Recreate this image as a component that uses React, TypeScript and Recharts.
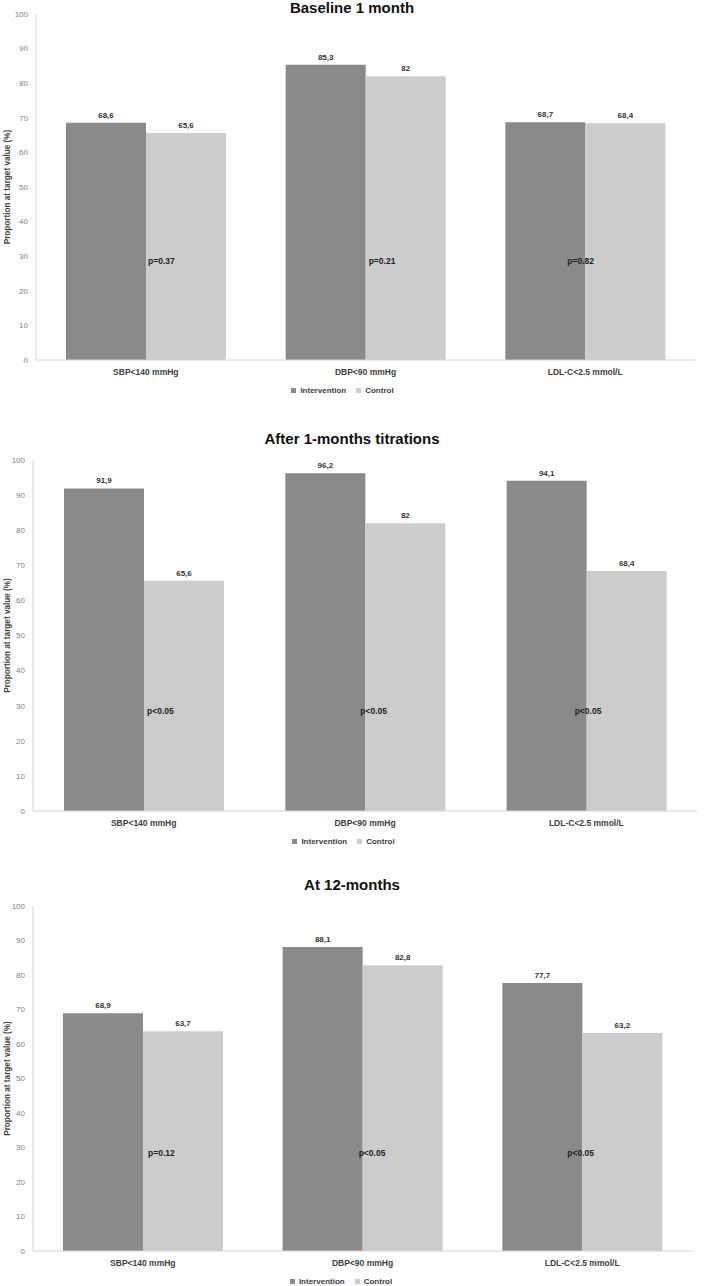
import React from "react";
import { BarChart, Bar, XAxis, YAxis, Legend, LabelList, Label } from "recharts";

const categories = ["SBP<140 mmHg", "DBP<90 mmHg", "LDL-C<2.5 mmol/L"];

const baselineIntervention = [68.6, 85.3, 68.7];
const baselineControl = [65.6, 82, 68.4];
const baselineP = ["p=0.37", "p=0.21", "p=0.82"];

const titrationIntervention = [91.9, 96.2, 94.1];
const titrationControl = [65.6, 82, 68.4];
const titrationP = ["p<0.05", "p<0.05", "p<0.05"];

const month12Intervention = [68.9, 88.1, 77.7];
const month12Control = [63.7, 82.8, 63.2];
const month12P = ["p=0.12", "p<0.05", "p<0.05"];

const yTicks = [0, 10, 20, 30, 40, 50, 60, 70, 80, 90, 100];
const seriesOrder = ["Intervention", "Control"];
const pLevel = 28.5;

const FONT = "Arial, 'Liberation Sans', sans-serif";
const DARK = "#8a8a8a";
const LIGHT = "#cccccc";

const fmt = (v: any) => String(v).replace(".", ",");

interface PanelProps {
  title: string;
  intervention: number[];
  control: number[];
  pValues: string[];
  pShift: number[];
  top: number;
  height: number;
  titleY: number;
  margin: { top: number; right: number; bottom: number; left: number };
  yWidth: number;
}

const Panel: React.FC<PanelProps> = ({
  title, intervention, control, pValues, pShift, top, height, titleY, margin, yWidth,
}) => {
  const data = categories.map((name, i) => ({
    name,
    intervention: intervention[i],
    control: control[i],
    p: pValues[i],
  }));

  const renderP = (props: any) => {
    const vb = props.viewBox ?? props;
    const x = Number(vb.x);
    const y = Number(vb.y);
    const h = Number(vb.height);
    const bottom = Math.max(y, y + h);
    const row = data[props.index];
    const ty = bottom - Math.abs(h) * (pLevel / row.control);
    return (
      <text
        x={x + pShift[props.index]}
        y={ty}
        dy="0.35em"
        fontSize={8.5}
        fontWeight="bold"
        fill="#222"
        fontFamily={FONT}
      >
        {props.value}
      </text>
    );
  };

  const renderYLabel = (props: any) => {
    const vb = props.viewBox;
    const cy = vb.y + vb.height / 2;
    return (
      <text
        x={7}
        y={cy}
        transform={`rotate(-90, 7, ${cy})`}
        textAnchor="middle"
        dy="0.35em"
        fontSize={8.2}
        fontWeight="bold"
        fill="#444"
        fontFamily={FONT}
      >
        Proportion at target value (%)
      </text>
    );
  };

  return (
    <div style={{ position: "absolute", left: 0, top, width: 704, height }}>
      <div
        style={{
          position: "absolute",
          left: 0,
          width: 704,
          top: titleY - top - 9,
          height: 18,
          lineHeight: "18px",
          textAlign: "center",
          fontFamily: FONT,
          fontWeight: "bold",
          fontSize: 15,
          color: "#111",
        }}
      >
        {title}
      </div>
      <BarChart width={704} height={height} data={data} margin={margin} barGap={0} barSize={80}>
        <XAxis
          dataKey="name"
          axisLine={{ stroke: "#d4d4d4" }}
          tickLine={false}
          tickSize={0}
          tickMargin={9}
          height={24}
          tick={{ fontSize: 8.5, fontWeight: "bold", fill: "#404040", fontFamily: FONT }}
        />
        <YAxis
          domain={[0, 100]}
          ticks={yTicks}
          width={yWidth}
          axisLine={{ stroke: "#d4d4d4" }}
          tickLine={false}
          tickSize={0}
          tickMargin={8}
          tick={{ fontSize: 8, fill: "#7f7f7f", fontFamily: FONT }}
        >
          <Label content={renderYLabel} />
        </YAxis>
        <Legend
          verticalAlign="bottom"
          iconType="square"
          iconSize={5}
          itemSorter={(item: any) => seriesOrder.indexOf(item.value)}
          wrapperStyle={{ fontSize: 8, fontWeight: "bold", fontFamily: FONT, lineHeight: "14px" }}
          formatter={(value: string) => <span style={{ color: "#404040" }}>{value}</span>}
        />
        <Bar dataKey="intervention" name="Intervention" fill={DARK} isAnimationActive={false}>
          <LabelList
            dataKey="intervention"
            position="top"
            offset={5}
            formatter={fmt}
            style={{ fontSize: 8, fontWeight: "bold", fill: "#333", fontFamily: FONT }}
          />
        </Bar>
        <Bar dataKey="control" name="Control" fill={LIGHT} isAnimationActive={false}>
          <LabelList
            dataKey="control"
            position="top"
            offset={5}
            formatter={fmt}
            style={{ fontSize: 8, fontWeight: "bold", fill: "#333", fontFamily: FONT }}
          />
          <LabelList dataKey="p" content={renderP} />
        </Bar>
      </BarChart>
    </div>
  );
};

export default function App() {
  return (
    <div
      style={{
        position: "absolute",
        left: 0,
        top: 0,
        width: 704,
        height: 1286,
        overflow: "hidden",
        background: "#fff",
      }}
    >
      <Panel
        title="Baseline 1 month"
        intervention={baselineIntervention}
        control={baselineControl}
        pValues={baselineP}
        pShift={[2, 3, -18]}
        top={0}
        height={400}
        titleY={8}
        margin={{ top: 14, right: 9, bottom: 2, left: 0 }}
        yWidth={36}
      />
      <Panel
        title="After 1-months titrations"
        intervention={titrationIntervention}
        control={titrationControl}
        pValues={titrationP}
        pShift={[3, -5, -12]}
        top={400}
        height={451}
        titleY={439}
        margin={{ top: 60, right: 7, bottom: 2, left: 0 }}
        yWidth={33}
      />
      <Panel
        title="At 12-months"
        intervention={month12Intervention}
        control={month12Control}
        pValues={month12P}
        pShift={[5, -4, -15]}
        top={850}
        height={439}
        titleY={885}
        margin={{ top: 56, right: 12, bottom: 0, left: 0 }}
        yWidth={33}
      />
    </div>
  );
}
